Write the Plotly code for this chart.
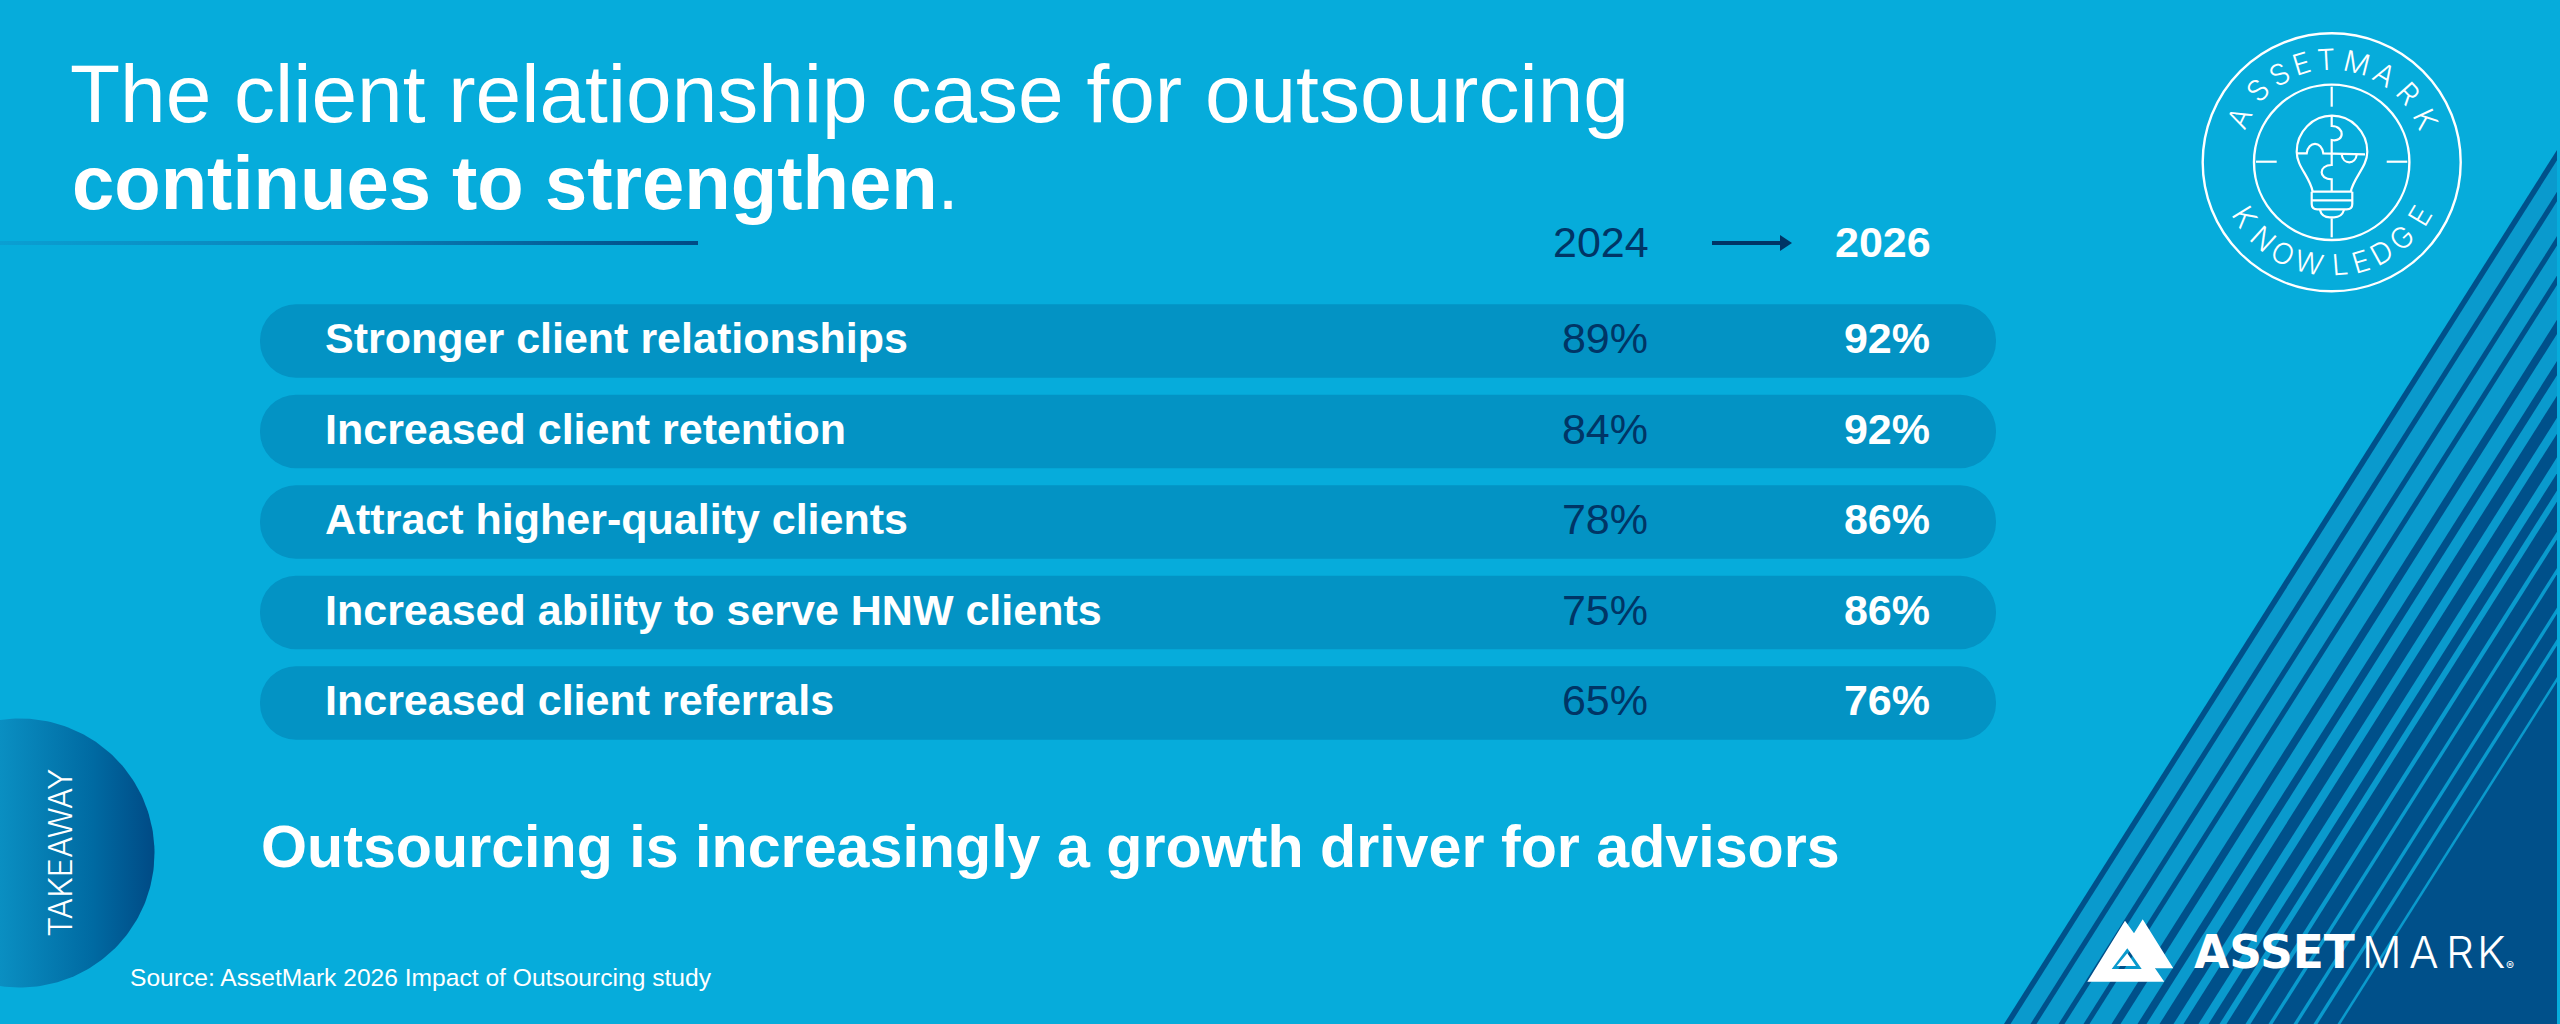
import numpy as np
import plotly.graph_objects as go

# %% chart values
rows = [
    "Stronger client relationships",
    "Increased client retention",
    "Attract higher-quality clients",
    "Increased ability to serve HNW clients",
    "Increased client referrals",
]
values_2024 = [89, 84, 78, 75, 65]
values_2026 = [92, 92, 86, 86, 76]
year_from = "2024"
year_to = "2026"

BG = "#06acdb"
PILL = "#0393c4"
NAVY = "#003566"
DARK = "#00508a"
MID = "#0a9acd"
WHITE = "#ffffff"

W, H = 2560, 1024
PILL_LEFT, PILL_RIGHT = 260, 1996
ROW_PITCH = 90.5
ROW_TOP = 341

fig = go.Figure()

# %% rounded rows
fig.add_trace(
    go.Bar(
        y=rows,
        x=[PILL_RIGHT - PILL_LEFT] * len(rows),
        base=PILL_LEFT,
        orientation="h",
        width=0.814,
        yaxis="y2",
        marker=dict(color=PILL, line_width=0, cornerradius=36),
        hoverinfo="skip",
    )
)


def text_column(x, labels, color, size, position, weight=400):
    # y3 sits a little lower than the bars, the text is not optically centred
    fig.add_trace(
        go.Scatter(
            x=[x] * len(rows),
            y=rows,
            yaxis="y3",
            mode="text",
            text=labels,
            textposition=position,
            textfont=dict(color=color, size=size, family="Liberation Sans", weight=weight),
            hoverinfo="skip",
        )
    )


text_column(325, rows, WHITE, 43, "middle right", 700)
text_column(1648, [f"{v}%" for v in values_2024], NAVY, 43, "middle left")
text_column(1930, [f"{v}%" for v in values_2026], WHITE, 43, "middle left", 700)

# %% gradient pieces
theta = np.linspace(0, 2 * np.pi, 240)
fig.add_trace(
    go.Scatter(
        x=20 + 134.5 * np.cos(theta),
        y=853 + 134.5 * np.sin(theta),
        mode="lines",
        line_width=0,
        fill="toself",
        fillgradient=dict(
            type="horizontal",
            colorscale=[[0, "#0a8fc2"], [0.6, "#006aa2"], [1, "#004a85"]],
            start=0,
            stop=155,
        ),
        hoverinfo="skip",
    )
)
fig.add_trace(
    go.Scatter(
        x=[0, 698, 698, 0, 0],
        y=[241, 241, 245, 245, 241],
        mode="lines",
        line_width=0,
        fill="toself",
        fillgradient=dict(
            type="horizontal",
            colorscale=[[0, "#0a9fd2"], [0.5, "#0a80b8"], [1, "#004a85"]],
            start=0,
            stop=698,
        ),
        hoverinfo="skip",
    )
)

# %% diagonal stripes, bottom right
SLOPE = 0.6327
EDGE_RIGHT = 2557
# left and right edge of each lighter stripe, read along y=990
stripes = [
    (2032, 2052), (2058, 2080), (2086, 2105), (2111, 2133), (2142, 2159), (2168, 2181),
    (2195, 2205), (2220, 2230), (2241, 2248), (2267, 2272), (2290, 2294), (2315, 2319),
    (2335, 2339), (2359, 2362),
]


def x_at(x990, y):
    return x990 + (990 - y) * SLOPE


def y_at_edge(x990):
    return 990 - (EDGE_RIGHT - x990) / SLOPE


shapes = [
    dict(
        type="path",
        path=f"M{x_at(2025.5, H)},{H} L{EDGE_RIGHT},{y_at_edge(2025.5)} L{EDGE_RIGHT},{H} Z",
        fillcolor=DARK,
        line_width=0,
        layer="below",
    )
]
for left, right in stripes:
    shapes.append(
        dict(
            type="path",
            path=(
                f"M{x_at(left, H)},{H} L{x_at(right, H)},{H} "
                f"L{EDGE_RIGHT},{y_at_edge(right)} L{EDGE_RIGHT},{y_at_edge(left)} Z"
            ),
            fillcolor=MID,
            line_width=0,
            layer="below",
        )
    )

# arrow between the years
shapes.append(
    dict(
        type="path",
        path="M1712,241 L1780,241 L1780,235 L1792,243 L1780,251 L1780,245 L1712,245 Z",
        fillcolor=NAVY,
        line_width=0,
    )
)


# %% badge and logo are drawn in the coordinates of a 3x crop
def crop_path(d, ox, oy):
    out = []
    for token in d.split():
        if "," in token:
            cmd = token[0] if token[0].isalpha() else ""
            a, b = token.lstrip("MLCQ").split(",")
            out.append(f"{cmd}{ox + float(a) / 3:.1f},{oy + float(b) / 3:.1f}")
        else:
            out.append(token)
    return " ".join(out)


CX, CY = 2331.7, 162.3
for r in (129, 77.7):
    shapes.append(
        dict(
            type="circle",
            x0=CX - r,
            x1=CX + r,
            y0=CY - r,
            y1=CY + r,
            line=dict(color=WHITE, width=2.4),
            fillcolor="rgba(0,0,0,0)",
        )
    )
bulb_lines = [
    "M425,200 L425,260",
    "M198,425 L260,425",
    "M590,425 L652,425",
    "M425,595 L425,652",
    "M368,515 C360,470 320,440 320,395 C320,335 368,287 426,287 C484,287 532,335 532,395 C532,440 492,470 482,515",
    "M365,515 L487,515",
    "M365,541 L487,541",
    "M365,515 L365,552 Q365,568 382,568 L470,568 Q487,568 487,552 L487,515",
    "M390,570 Q395,592 420,592 L432,592 Q455,592 462,570",
    "M425,287 L425,318 C465,318 465,368 425,360 L425,435 C385,435 385,478 425,478 L425,515",
    "M320,400 L350,400 C355,362 395,362 400,400 L525,403",
    "M455,403 C458,435 498,435 500,403",
]
for d in bulb_lines:
    shapes.append(
        dict(type="path", path=crop_path(d, 2190, 20), line=dict(color=WHITE, width=2.2), fillcolor="rgba(0,0,0,0)")
    )

logo = (
    "M52,245 L165,62 L192,100 L218,58 L310,205 L255,205 L283,245 Z "
    "M125,207 L215,207 L172,145 Z "
    "M172,160 L198,198 L140,198 Z"
)
shapes.append(dict(type="path", path=crop_path(logo, 2070, 900), fillcolor=WHITE, line_width=0))

# %% free text
annotations = []


def add_text(x, y, text, size, color=WHITE, family="Liberation Sans", anchor="left", weight=400, angle=0):
    annotations.append(
        dict(
            x=x,
            y=y,
            text=text,
            xref="x",
            yref="y",
            showarrow=False,
            xanchor=anchor,
            yanchor="middle",
            textangle=angle,
            borderpad=0,
            font=dict(size=size, color=color, family=family, weight=weight),
        )
    )


add_text(69, 93, "The client relationship case for outsourcing", 82)
add_text(71, 182, "<b>continues to strengthen</b>.", 76)
add_text(1650, 242, year_from, 43, NAVY, anchor="right")
add_text(1932, 242, year_to, 43, WHITE, anchor="right", weight=700)
add_text(260, 846, "<b>Outsourcing is increasingly a growth driver for advisors</b>", 59.2)
add_text(129, 977, "Source: AssetMark 2026 Impact of Outsourcing study", 24.6)
add_text(60, 853, "TAKEAWAY", 32, family="Inter", anchor="center", weight=300, angle=-90)

# wordmark, MARK letters placed one by one to get the wide logo spacing
add_text(2193, 952, "ASSET", 45.5, family="DejaVu Sans", weight=700)
for ch, x in zip("MARK", [2382, 2424, 2460, 2491]):
    add_text(x, 952, ch, 44, family="Inter", anchor="center", weight=300)
add_text(2510, 965, "®", 12, family="Inter", anchor="center")

# badge lettering, angles read from the top and the bottom of the ring
top_letters = list("ASSETMARK")
top_angles = [-64, -46, -31, -17, -3, 14, 31, 48, 65]
bottom_letters = list("KNOWLEDGE")
bottom_angles = [-58, -42, -28, -13, 4.5, 16.5, 29, 43, 59]
RING = 103
for ch, a in zip(top_letters, top_angles):
    t = np.radians(a)
    add_text(CX + RING * np.sin(t), CY - RING * np.cos(t), ch, 29, family="Inter", anchor="center", weight=300, angle=a)
for ch, a in zip(bottom_letters, bottom_angles):
    t = np.radians(a)
    add_text(CX + RING * np.sin(t), CY + RING * np.cos(t), ch, 29, family="Inter", anchor="center", weight=300, angle=-a)

# %% layout
row_axis = dict(
    overlaying="y",
    visible=False,
    type="category",
    categoryorder="array",
    categoryarray=rows,
    fixedrange=True,
)
fig.update_layout(
    width=W,
    height=H,
    margin=dict(l=0, r=0, t=0, b=0),
    paper_bgcolor=BG,
    plot_bgcolor=BG,
    showlegend=False,
    barmode="overlay",
    shapes=shapes,
    annotations=annotations,
    xaxis=dict(range=[0, W], visible=False, fixedrange=True),
    yaxis=dict(range=[H, 0], visible=False, fixedrange=True),
    yaxis2=dict(row_axis, range=[(H - ROW_TOP) / ROW_PITCH, -ROW_TOP / ROW_PITCH]),
    yaxis3=dict(row_axis, range=[(H - ROW_TOP - 1.5) / ROW_PITCH, (-ROW_TOP - 1.5) / ROW_PITCH]),
)

fig.write_html(
    "out.html",
    config=dict(displayModeBar=False),
    post_script="document.body.style.margin='0';document.body.style.overflow='hidden';",
)
